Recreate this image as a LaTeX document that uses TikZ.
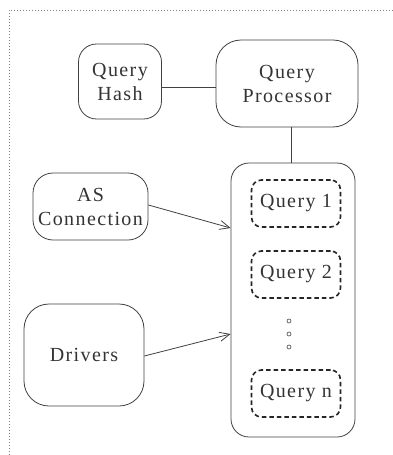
\documentclass[tikz,border=0pt]{standalone}
\usepackage{fontspec}
\setmainfont{Liberation Serif}[LetterSpace=7]
\usetikzlibrary{arrows.meta}
\tikzset{
  box/.style={draw=black!75, line width=0.8pt, rounded corners=#1, inner sep=0pt, align=center},
  box/.default=18pt,
  qbox/.style={draw=black!85, line width=1.6pt, dash pattern=on 4.5pt off 3pt, rounded corners=10pt, minimum width=89pt, minimum height=47pt, inner sep=0pt},
  lbl/.style={font=\fontsize{20}{24}\selectfont, text=black!80},
  conn/.style={draw=black!75, line width=0.8pt},
  arr/.style={conn, -{Straight Barb[length=10pt,width=9pt,line width=0.8pt]}},
  dotc/.style={draw=black!75, line width=0.6pt, circle, minimum size=4pt, inner sep=0pt},
}
\begin{document}
\begin{tikzpicture}[x=1pt,y=-1pt]
\useasboundingbox (0,0) rectangle (393,455);
\coordinate (ftl) at (9,10);
\coordinate (ftr) at (393,10);
\coordinate (fbl) at (9,455);
\draw[black!50, line width=0.6pt, dash pattern=on 0.6pt off 2.4pt] (ftr) -- (ftl) -- (fbl);

\node[box=18pt, lbl, minimum width=83pt, minimum height=75pt] (hash) at (120,81.5) {Query\\Hash};
\node[box=25pt, lbl, minimum width=142pt, minimum height=87pt] (proc) at (287,83.5) {Query\\Processor};
\node[box=18pt, minimum width=124pt, minimum height=274pt] (cont) at (293,300) {};
\node[box=20pt, lbl, minimum width=115pt, minimum height=67pt] (asc) at (90.5,206.5) {AS\\Connection};
\node[box=25pt, lbl, minimum width=120pt, minimum height=102pt] (drv) at (84,355) {Drivers};

\node[qbox, lbl] (q1) at (296,203.5) {Query 1};
\node[qbox, lbl] (q2) at (296,274.5) {Query 2};
\node[qbox, lbl] (qn) at (296,393.5) {Query n};

\node[dotc] (d1) at (289,321) {};
\node[dotc] (d2) at (289,334) {};
\node[dotc] (d3) at (289,347) {};

\draw[conn] ([yshift=-5.5pt]hash.east) -- ([yshift=-5.5pt]hash.east -| proc.west);
\draw[conn] ([xshift=4pt]proc.south) -- ([xshift=4pt]proc.south |- cont.north);
\coordinate (a1) at (231,228);
\coordinate (a2) at (231,334);
\draw[arr] ([yshift=1.5pt]asc.east) -- (a1 -| cont.west);
\draw[arr] ([yshift=-1pt]drv.east) -- (a2 -| cont.west);
\end{tikzpicture}
\end{document}
